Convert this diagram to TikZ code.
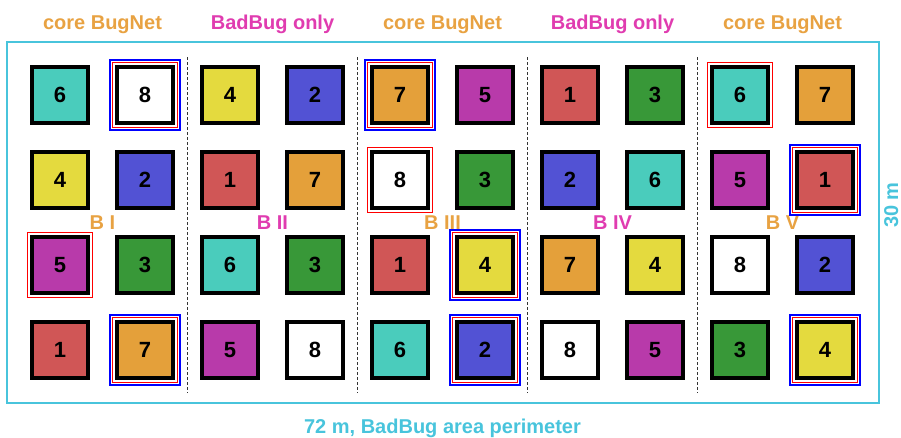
\documentclass[tikz,border=0pt]{standalone}
\usepackage{fontspec}
\setmainfont{Liberation Sans}
\usetikzlibrary{fit}
\definecolor{perimcol}{RGB}{72,196,220}
\definecolor{coreorg}{RGB}{232,162,66}
\definecolor{badmag}{RGB}{224,60,176}
\definecolor{bugred}{RGB}{208,86,86}
\definecolor{bugblue}{RGB}{82,82,212}
\definecolor{buggreen}{RGB}{56,152,56}
\definecolor{bugyellow}{RGB}{228,218,62}
\definecolor{bugmag}{RGB}{184,58,170}
\definecolor{bugteal}{RGB}{74,204,188}
\definecolor{bugorange}{RGB}{228,160,58}
\tikzset{
  tile/.style={draw=black,line width=4pt,minimum size=56pt,inner sep=0pt,
    font=\fontsize{22}{26}\selectfont\bfseries},
  t1/.style={tile,fill=bugred},
  t2/.style={tile,fill=bugblue},
  t3/.style={tile,fill=buggreen},
  t4/.style={tile,fill=bugyellow},
  t5/.style={tile,fill=bugmag},
  t6/.style={tile,fill=bugteal},
  t7/.style={tile,fill=bugorange},
  t8/.style={tile,fill=white},
  redframe/.style={draw=red,line width=1.5pt,inner sep=2.5pt},
  blueframe/.style={draw=blue,line width=1.5pt,inner sep=5pt},
  divider/.style={black!80,line width=1pt,dash pattern=on 3pt off 2pt},
  perim/.style={perimcol,line width=2pt},
  lbl/.style={font=\fontsize{20}{24}\selectfont\bfseries,anchor=base},
}
\begin{document}
\begin{tikzpicture}[x=1pt,y=-1pt]
    \useasboundingbox (0,0) rectangle (901,437);
    % ---------------- perimeter ----------------
    \draw[perim] (7,42) rectangle (879,403);
    \node[lbl,text=perimcol] (bottom) at (442.5,433) {72 m, BadBug area perimeter};
    \node[lbl,text=perimcol,rotate=90] (side) at (898,205) {30 m};
    % ---------------- block dividers ----------------
    \coordinate (d1t) at (187.5,57);  \coordinate (d1b) at (187.5,393);
    \coordinate (d2t) at (357.5,57);  \coordinate (d2b) at (357.5,393);
    \coordinate (d3t) at (527.5,57);  \coordinate (d3b) at (527.5,393);
    \coordinate (d4t) at (697.5,57);  \coordinate (d4b) at (697.5,393);
    \draw[divider] (d1t) -- (d1b);
    \draw[divider] (d2t) -- (d2b);
    \draw[divider] (d3t) -- (d3b);
    \draw[divider] (d4t) -- (d4b);
    % ---------------- headings ----------------
    \node[lbl,text=coreorg] (h1) at (102.5,29) {core BugNet};
    \node[lbl,text=badmag] (h2) at (272.5,29) {BadBug only};
    \node[lbl,text=coreorg] (h3) at (442.5,29) {core BugNet};
    \node[lbl,text=badmag] (h4) at (612.5,29) {BadBug only};
    \node[lbl,text=coreorg] (h5) at (782.5,29) {core BugNet};
    % ---------------- B I ----------------
    \node[t6] (s1a) at (60,95) {6};   \node[t8] (s1b) at (145,95) {8};
    \node[t4] (s2a) at (60,180) {4};  \node[t2] (s2b) at (145,180) {2};
    \node[t5] (s3a) at (60,265) {5};  \node[t3] (s3b) at (145,265) {3};
    \node[t1] (s4a) at (60,350) {1};  \node[t7] (s4b) at (145,350) {7};
    \node[lbl,text=coreorg] (bl1) at (102.5,229) {B I};
    % ---------------- B II ----------------
    \node[t4] (s1c) at (230,95) {4};  \node[t2] (s1d) at (315,95) {2};
    \node[t1] (s2c) at (230,180) {1}; \node[t7] (s2d) at (315,180) {7};
    \node[t6] (s3c) at (230,265) {6}; \node[t3] (s3d) at (315,265) {3};
    \node[t5] (s4c) at (230,350) {5}; \node[t8] (s4d) at (315,350) {8};
    \node[lbl,text=badmag] (bl2) at (272.5,229) {B II};
    % ---------------- B III ----------------
    \node[t7] (s1e) at (400,95) {7};  \node[t5] (s1f) at (485,95) {5};
    \node[t8] (s2e) at (400,180) {8}; \node[t3] (s2f) at (485,180) {3};
    \node[t1] (s3e) at (400,265) {1}; \node[t4] (s3f) at (485,265) {4};
    \node[t6] (s4e) at (400,350) {6}; \node[t2] (s4f) at (485,350) {2};
    \node[lbl,text=coreorg] (bl3) at (442.5,229) {B III};
    % ---------------- B IV ----------------
    \node[t1] (s1g) at (570,95) {1};  \node[t3] (s1h) at (655,95) {3};
    \node[t2] (s2g) at (570,180) {2}; \node[t6] (s2h) at (655,180) {6};
    \node[t7] (s3g) at (570,265) {7}; \node[t4] (s3h) at (655,265) {4};
    \node[t8] (s4g) at (570,350) {8}; \node[t5] (s4h) at (655,350) {5};
    \node[lbl,text=badmag] (bl4) at (612.5,229) {B IV};
    % ---------------- B V ----------------
    \node[t6] (s1i) at (740,95) {6};  \node[t7] (s1j) at (825,95) {7};
    \node[t5] (s2i) at (740,180) {5}; \node[t1] (s2j) at (825,180) {1};
    \node[t8] (s3i) at (740,265) {8}; \node[t2] (s3j) at (825,265) {2};
    \node[t3] (s4i) at (740,350) {3}; \node[t4] (s4j) at (825,350) {4};
    \node[lbl,text=coreorg] (bl5) at (782.5,229) {B V};
    % ---------------- marked tiles ----------------
    \node[redframe,fit=(s1b)] (r1b) {};  \node[blueframe,fit=(s1b)] (u1b) {};
    \node[redframe,fit=(s4b)] (r4b) {};  \node[blueframe,fit=(s4b)] (u4b) {};
    \node[redframe,fit=(s1e)] (r1e) {};  \node[blueframe,fit=(s1e)] (u1e) {};
    \node[redframe,fit=(s3f)] (r3f) {};  \node[blueframe,fit=(s3f)] (u3f) {};
    \node[redframe,fit=(s4f)] (r4f) {};  \node[blueframe,fit=(s4f)] (u4f) {};
    \node[redframe,fit=(s2j)] (r2j) {};  \node[blueframe,fit=(s2j)] (u2j) {};
    \node[redframe,fit=(s4j)] (r4j) {};  \node[blueframe,fit=(s4j)] (u4j) {};
    % red only
    \node[redframe,fit=(s3a)] (r3a) {};
    \node[redframe,fit=(s2e)] (r2e) {};
    \node[redframe,fit=(s1i)] (r1i) {};
  \end{tikzpicture}
\end{document}
